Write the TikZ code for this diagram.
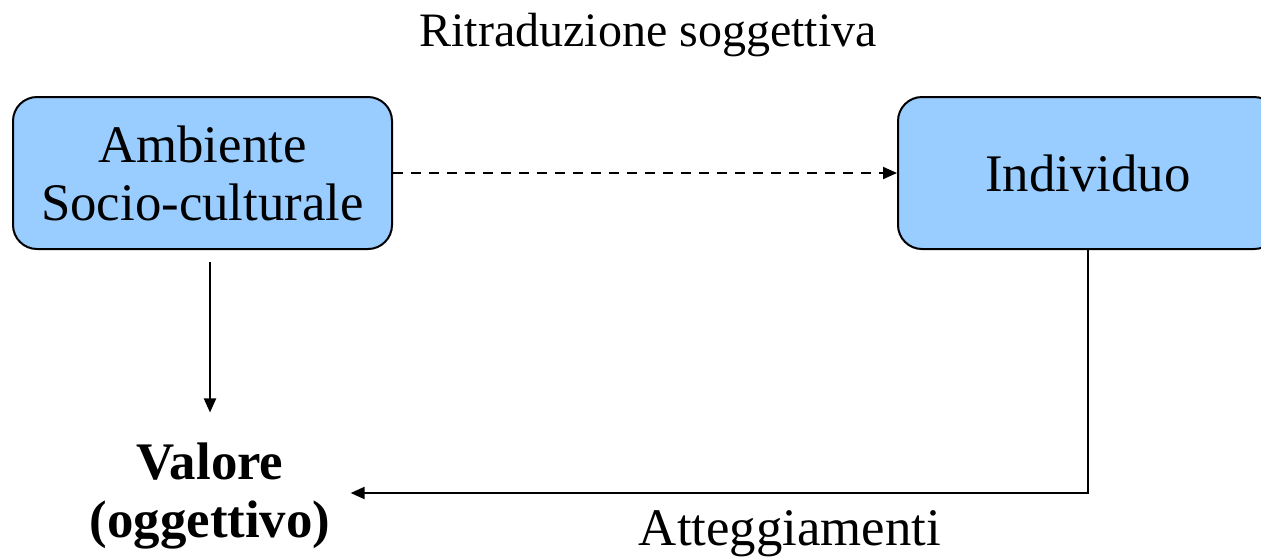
\documentclass[tikz,border=0pt]{standalone}
\usepackage{fontspec}
\setmainfont{Liberation Serif}
\usetikzlibrary{arrows.meta}
\definecolor{boxblue}{HTML}{99CCFF}
\tikzset{
  box/.style={draw=black, line width=1pt, fill=boxblue, rounded corners=12pt, align=center, inner sep=0pt, font=\fontsize{26.4}{29}\selectfont},
  lbl/.style={inner sep=0pt, anchor=base, font=\fontsize{26.4}{29}\selectfont},
  arr/.style={line width=1pt, -{Triangle[length=7pt,width=6pt]}}
}
\begin{document}
\begin{tikzpicture}[x=0.5pt,y=-0.5pt]
\useasboundingbox (0,0) rectangle (1261,559);
\node[box, minimum width=189.5pt, minimum height=76pt] (amb) at (202.5,173) {Ambiente\\Socio-culturale};
\node[box, minimum width=190pt, minimum height=76pt] (ind) at (1088,173) {Individuo};
\node[lbl, font=\fontsize{24}{28}\selectfont] (rit) at (648,46) {Ritraduzione soggettiva};
\node[lbl] (att) at (790,545) {Atteggiamenti};
\node[inner sep=0pt, align=center, font=\fontsize{26.4}{29}\bfseries\selectfont] (val) at (210,496) {Valore\\(oggettivo)};
\draw[line width=1pt, dash pattern=on 5pt off 4pt, -{Triangle[length=7pt,width=6pt]}] (amb.east) -- (ind.west);
\draw[arr, shorten <=6pt, shorten >=15pt] (amb.south -| val.north) -- (val.north);
\draw[arr, shorten >=10pt] (ind.south) |- ([yshift=1.5pt]val.east);
\end{tikzpicture}
\end{document}
